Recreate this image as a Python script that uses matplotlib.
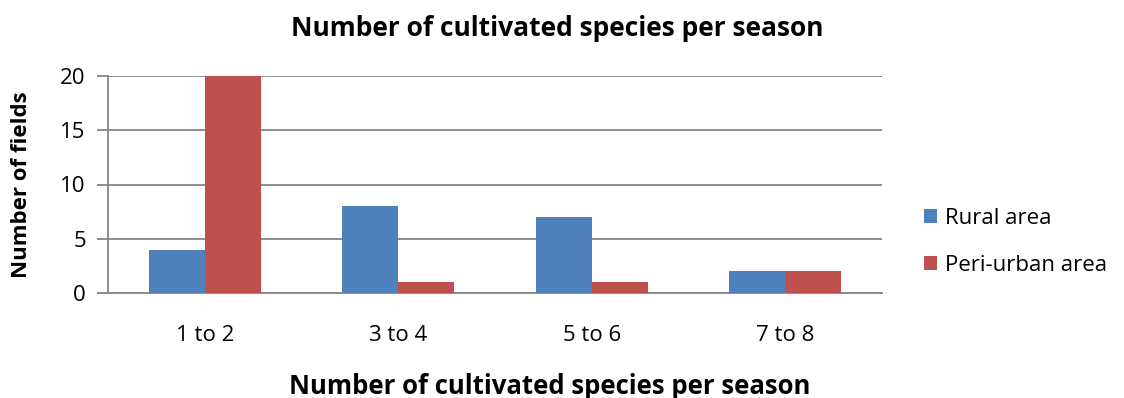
import matplotlib.pyplot as plt
import numpy as np

plt.rcParams['font.family'] = ['Open Sans', 'DejaVu Sans']

categories = ['1 to 2', '3 to 4', '5 to 6', '7 to 8']
rural = [4, 8, 7, 2]
peri_urban = [20, 1, 1, 2]

W, H = 1124, 398
fig = plt.figure(figsize=(W / 100, H / 100), dpi=100)
ax = fig.add_axes([108 / W, 1 - 293 / H, 774 / W, 217 / H])

x = np.arange(len(categories))
w = 0.29
ax.bar(x - w / 2, rural, w, color='#4F81BD', label='Rural area', zorder=3)
ax.bar(x + w / 2, peri_urban, w, color='#C0504D', label='Peri-urban area', zorder=3)

ax.set_xlim(-0.5, len(categories) - 0.5)
ax.set_ylim(0, 20)
ax.set_yticks([0, 5, 10, 15, 20])
ax.set_xticks(x)
ax.set_xticklabels(categories)

ax.yaxis.grid(True, color='#868686', linewidth=1.3, zorder=0)
for s in ['top', 'right']:
    ax.spines[s].set_visible(False)
for s in ['left', 'bottom']:
    ax.spines[s].set_color('#868686')
    ax.spines[s].set_linewidth(1.3)
ax.tick_params(axis='y', length=8, width=1.3, color='#868686', labelsize=16, pad=8)
ax.tick_params(axis='x', length=0, labelsize=16, pad=23)

fig.text(557 / W, 1 - 28 / H, 'Number of cultivated species per season',
         fontsize=19, fontweight='bold', ha='center', va='center')
fig.text(550 / W, 1 - 386 / H, 'Number of cultivated species per season',
         fontsize=18.5, fontweight='bold', ha='center', va='center')
fig.text(22 / W, 1 - 185 / H, 'Number of fields', fontsize=16, fontweight='bold',
         rotation=90, ha='center', va='center')

fig.legend(loc='center left', bbox_to_anchor=(924 / W, 1 - 242 / H), frameon=False,
           fontsize=16, handlelength=0.6, handleheight=0.6, handletextpad=0.35,
           labelspacing=1.15, borderpad=0, borderaxespad=0)

fig.savefig('out.png', dpi=100)
